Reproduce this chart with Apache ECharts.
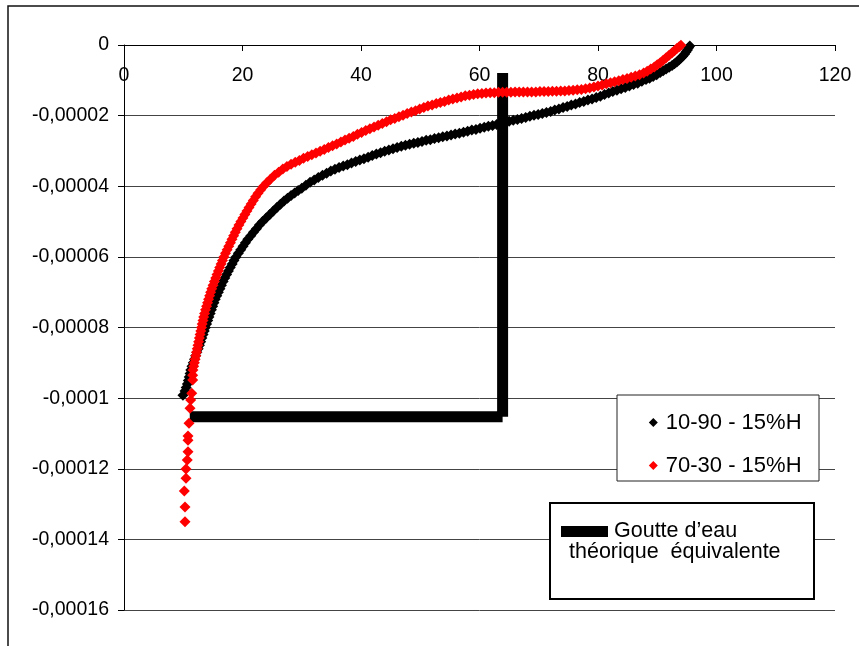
<!DOCTYPE html>
<html>
<head>
<meta charset="utf-8">
<script src="https://cdn.jsdelivr.net/npm/echarts@6/dist/echarts.min.js"></script>
<style>
html,body{margin:0;padding:0;background:#fff;}
#chart{width:859px;height:646px;}
</style>
</head>
<body>
<div id="chart"></div>
<script>
// ---- data (y values are written in units of 1e-5) ----
const Y_UNIT = 1e-5;

const xTickLabels = ['0', '20', '40', '60', '80', '100', '120'];
const yTickLabels = ['0', '-0,00002', '-0,00004', '-0,00006', '-0,00008', '-0,0001', '-0,00012', '-0,00014', '-0,00016'];

const seriesNames = ['10-90 - 15%H', '70-30 - 15%H', 'Goutte d’eau\nthéorique  équivalente'];

// series "10-90 - 15%H"  [x, y (1e-5)]
const black1090 = [
[9.95,-9.92],[10.3,-9.8],[10.5,-9.7],[10.7,-9.6],[10.85,-9.5],[11.0,-9.4],[11.15,-9.3],[11.27,-9.2],[11.47,-9.1],[11.69,-9.0],
[11.9,-8.9],[12.1,-8.8],[12.3,-8.7],[12.52,-8.6],[12.73,-8.5],[12.94,-8.4],[13.14,-8.3],[13.34,-8.2],[13.54,-8.1],[13.74,-8.0],
[13.94,-7.9],[14.14,-7.8],[14.34,-7.7],[14.55,-7.6],[14.76,-7.5],[14.97,-7.4],[15.18,-7.3],[15.4,-7.2],[15.66,-7.1],[15.93,-7.0],
[16.19,-6.9],[16.45,-6.8],[16.73,-6.7],[17.02,-6.6],[17.32,-6.5],[17.63,-6.4],[17.93,-6.3],[18.26,-6.2],[18.56,-6.1],[18.9,-6.0],
[19.3,-5.9],[19.7,-5.8],[20.1,-5.7],[20.5,-5.6],[20.9,-5.5],[21.4,-5.4],[21.85,-5.3],[22.35,-5.2],[22.85,-5.1],[23.4,-5.0],
[24.0,-4.9],[24.6,-4.8],[25.2,-4.7],[25.8,-4.6],[26.4,-4.51],[27.0,-4.42],[27.6,-4.34],[28.2,-4.26],[28.8,-4.19],[29.4,-4.12],
[30.0,-4.06],[30.7,-3.97],[31.4,-3.89],[32.1,-3.82],[32.8,-3.75],[33.5,-3.69],[34.2,-3.63],[34.9,-3.57],[35.6,-3.52],[36.3,-3.47],
[37.0,-3.43],[37.7,-3.39],[38.4,-3.34],[39.1,-3.30],[39.8,-3.26],[40.5,-3.22],[41.2,-3.18],[41.9,-3.13],[42.6,-3.09],[43.3,-3.05],
[44.0,-3.01],[44.7,-2.97],[45.4,-2.94],[46.1,-2.90],[46.8,-2.87],[47.5,-2.84],[48.2,-2.81],[48.9,-2.78],[49.6,-2.76],[50.3,-2.73],
[51.0,-2.70],[51.7,-2.68],[52.4,-2.65],[53.1,-2.63],[53.8,-2.60],[54.5,-2.58],[55.2,-2.55],[55.9,-2.52],[56.6,-2.50],[57.3,-2.47],
[58.0,-2.44],[58.7,-2.41],[59.4,-2.39],[60.1,-2.36],[60.8,-2.33],[61.5,-2.30],[62.2,-2.28],[62.9,-2.25],[63.6,-2.22],[64.3,-2.19],
[65.0,-2.16],[65.7,-2.13],[66.4,-2.11],[67.1,-2.08],[67.8,-2.05],[68.5,-2.02],[69.2,-1.99],[69.9,-1.97],[70.6,-1.94],[71.3,-1.91],
[72.0,-1.88],[72.7,-1.84],[73.4,-1.81],[74.1,-1.77],[74.8,-1.74],[75.5,-1.70],[76.2,-1.67],[76.9,-1.63],[77.6,-1.60],[78.3,-1.56],
[79.0,-1.53],[79.7,-1.49],[80.4,-1.45],[81.1,-1.40],[81.8,-1.36],[82.5,-1.32],[83.2,-1.28],[83.9,-1.24],[84.6,-1.20],[85.3,-1.16],
[86.0,-1.12],[86.7,-1.08],[87.4,-1.03],[88.1,-0.98],[88.7,-0.94],[89.3,-0.89],[89.9,-0.84],[90.5,-0.78],[91.0,-0.73],[91.5,-0.68],
[92.0,-0.63],[92.5,-0.58],[92.9,-0.53],[93.3,-0.48],[93.7,-0.42],[94.0,-0.37],[94.3,-0.32],[94.6,-0.26],[94.85,-0.20],[95.1,-0.14],
[95.3,-0.08],[95.5,-0.03]
];

// series "70-30 - 15%H"  [x, y (1e-5)]
const red7030 = [
[10.30,-13.50],[10.30,-13.08],[10.18,-12.63],[10.46,-12.27],[10.46,-12.01],[10.68,-11.75],[10.80,-11.52],[10.80,-11.19],[10.80,-11.07],[10.97,-10.71],
[11.14,-10.29],[11.26,-10.05],[11.43,-9.86],[11.59,-9.49],[11.59,-9.35],
[11.64,-9.2],[11.76,-9.1],[11.88,-9.0],[12.0,-8.9],[12.12,-8.8],[12.24,-8.7],[12.36,-8.6],[12.48,-8.5],[12.6,-8.4],[12.72,-8.3],
[12.84,-8.2],[12.96,-8.1],[13.08,-8.0],[13.2,-7.9],[13.33,-7.8],[13.45,-7.7],[13.6,-7.6],[13.77,-7.5],[13.93,-7.4],[14.1,-7.3],
[14.27,-7.2],[14.45,-7.1],[14.62,-7.0],[14.81,-6.9],[15.03,-6.8],[15.25,-6.7],[15.48,-6.6],[15.7,-6.5],[15.93,-6.4],[16.15,-6.3],
[16.38,-6.2],[16.61,-6.1],[16.86,-6.0],[17.13,-5.9],[17.41,-5.8],[17.68,-5.7],[17.96,-5.6],[18.23,-5.5],[18.5,-5.4],[18.79,-5.3],
[19.07,-5.2],[19.4,-5.1],[19.73,-5.0],[20.07,-4.9],[20.4,-4.8],[20.75,-4.7],[21.1,-4.6],[21.46,-4.5],[21.83,-4.4],[22.22,-4.3],
[22.62,-4.2],[23.08,-4.1],[23.55,-4.0],[24.1,-3.9],[24.7,-3.8],
[25.4,-3.69],[26.1,-3.60],[26.8,-3.51],[27.5,-3.44],[28.2,-3.38],[28.9,-3.32],[29.6,-3.27],[30.3,-3.21],[31.0,-3.16],[31.7,-3.11],
[32.4,-3.06],[33.1,-3.01],[33.8,-2.96],[34.5,-2.90],[35.2,-2.85],[35.9,-2.80],[36.6,-2.75],[37.3,-2.69],[38.0,-2.64],[38.7,-2.59],
[39.4,-2.53],[40.1,-2.48],[40.8,-2.42],[41.5,-2.37],[42.2,-2.32],[42.9,-2.27],[43.6,-2.22],[44.3,-2.17],[45.0,-2.12],[45.7,-2.08],
[46.4,-2.03],[47.1,-1.99],[47.8,-1.94],[48.5,-1.90],[49.2,-1.86],[49.9,-1.81],[50.6,-1.77],[51.3,-1.73],[52.0,-1.70],[52.7,-1.66],
[53.4,-1.63],[54.1,-1.60],[54.8,-1.56],[55.5,-1.53],[56.2,-1.50],[56.9,-1.47],[57.6,-1.44],[58.3,-1.42],[59.0,-1.40],[59.7,-1.38],
[60.4,-1.37],[61.1,-1.36],[61.8,-1.35],[62.5,-1.35],[63.2,-1.34],[63.9,-1.34],[64.6,-1.34],[65.3,-1.34],[66.0,-1.33],[66.7,-1.33],
[67.4,-1.33],[68.1,-1.33],[68.8,-1.33],[69.5,-1.33],[70.2,-1.32],[70.9,-1.32],[71.6,-1.32],[72.3,-1.31],[73.0,-1.31],[73.7,-1.30],
[74.4,-1.30],[75.1,-1.29],[75.8,-1.28],[76.5,-1.27],[77.2,-1.26],[77.9,-1.24],[78.6,-1.22],[79.3,-1.19],[80.0,-1.16],[80.7,-1.13],
[81.4,-1.10],[82.1,-1.07],[82.8,-1.04],[83.5,-1.01],[84.2,-0.98],[84.9,-0.95],[85.6,-0.91],[86.3,-0.88],[87.0,-0.84],[87.7,-0.79],
[88.3,-0.74],[88.9,-0.68],[89.5,-0.62],[90.0,-0.56],[90.5,-0.50],[91.0,-0.43],[91.5,-0.36],[92.0,-0.29],[92.5,-0.22],[92.9,-0.16],
[93.3,-0.10],[93.7,-0.05],[94.0,-0.01]
];

// "Goutte d'eau théorique équivalente" corner points [x, y (1e-5)]
const dropX = [11.1, 63.9, 63.9];
const dropY = [-10.53, -10.53, -0.79];

// ---- build ----
const toPts = arr => arr.map(p => [p[0], p[1] * Y_UNIT]);
const dropData = [
  [dropX[0], dropY[0] * Y_UNIT], [dropX[1], dropY[1] * Y_UNIT], '-',
  [dropX[1], dropY[1] * Y_UNIT], [dropX[2], dropY[2] * Y_UNIT]
];

const FONT = 'Liberation Sans, Arial, sans-serif';
const chart = echarts.init(document.getElementById('chart'), null, {renderer: 'canvas'});

chart.setOption({
  animation: false,
  backgroundColor: '#ffffff',
  grid: {left: 124, top: 45, right: 24, bottom: 36, containLabel: false},
  xAxis: {
    type: 'value', position: 'top', min: 0, max: 120, interval: 20,
    axisLine: {show: true, onZero: false, lineStyle: {color: '#000', width: 1}},
    axisTick: {show: true, inside: true, length: 6, lineStyle: {color: '#000'}},
    axisLabel: {
      inside: true, margin: 20, color: '#000', fontFamily: FONT, fontSize: 19.5, lineHeight: 22,
      formatter: v => xTickLabels[Math.round(v / 20)]
    },
    splitLine: {show: false}
  },
  yAxis: {
    type: 'value', min: -0.00016, max: 0, interval: 0.00002,
    axisLine: {show: true, onZero: false, lineStyle: {color: '#000', width: 1}},
    axisTick: {show: true, inside: false, length: 6, lineStyle: {color: '#000'}},
    axisLabel: {
      margin: 15, color: '#000', fontFamily: FONT, fontSize: 19.5,
      formatter: v => yTickLabels[Math.round(-v / 0.00002)]
    },
    splitLine: {show: true, lineStyle: {color: '#444', width: 1}}
  },
  legend: [
    {
      orient: 'vertical', left: 643.8, top: 405.5,
      itemWidth: 9, itemHeight: 9, itemGap: 19,
      selectedMode: false,
      textStyle: {fontFamily: FONT, fontSize: 22, lineHeight: 24, color: '#000', padding: [0, 0, 0, 3]},
      data: [{name: seriesNames[0], icon: 'diamond'}, {name: seriesNames[1], icon: 'diamond'}]
    },
    {
      orient: 'vertical', left: 556, top: 512,
      itemWidth: 47, itemHeight: 11,
      selectedMode: false,
      formatter: name => name.split('\n')[0],
      textStyle: {fontFamily: FONT, fontSize: 21.5, lineHeight: 24, color: '#000', padding: [0, 0, 5, 1]},
      data: [{name: seriesNames[2], icon: 'rect'}]
    }
  ],
  graphic: [
    {type: 'rect', z: 0, silent: true, shape: {x: 8, y: 6, width: 1000, height: 1000},
     style: {fill: 'none', stroke: '#111', lineWidth: 1.5}},
    {type: 'rect', z: 3, silent: true, shape: {x: 617, y: 395, width: 202, height: 86},
     style: {fill: '#fff', stroke: '#222', lineWidth: 1}},
    {type: 'rect', z: 3, silent: true, shape: {x: 550, y: 503, width: 264, height: 96},
     style: {fill: '#fff', stroke: '#000', lineWidth: 2}},
    {type: 'text', z: 5, silent: true, left: 569, top: 541,
     style: {text: seriesNames[2].split('\n')[1], fontFamily: FONT, fontSize: 21.5, fill: '#000'}}
  ],
  series: [
    {
      name: seriesNames[0], type: 'scatter', symbol: 'diamond', symbolSize: 11,
      itemStyle: {color: '#000', opacity: 1}, data: toPts(black1090), z: 2
    },
    {
      name: seriesNames[1], type: 'scatter', symbol: 'diamond', symbolSize: 11,
      itemStyle: {color: '#ff0000', opacity: 1}, data: toPts(red7030), z: 2
    },
    {
      name: seriesNames[2], type: 'line', symbol: 'none', connectNulls: false,
      color: '#000',
      lineStyle: {color: '#000', width: 11, cap: 'butt', join: 'miter'},
      itemStyle: {color: '#000'},
      data: dropData, z: 2
    }
  ]
});
</script>
</body>
</html>
